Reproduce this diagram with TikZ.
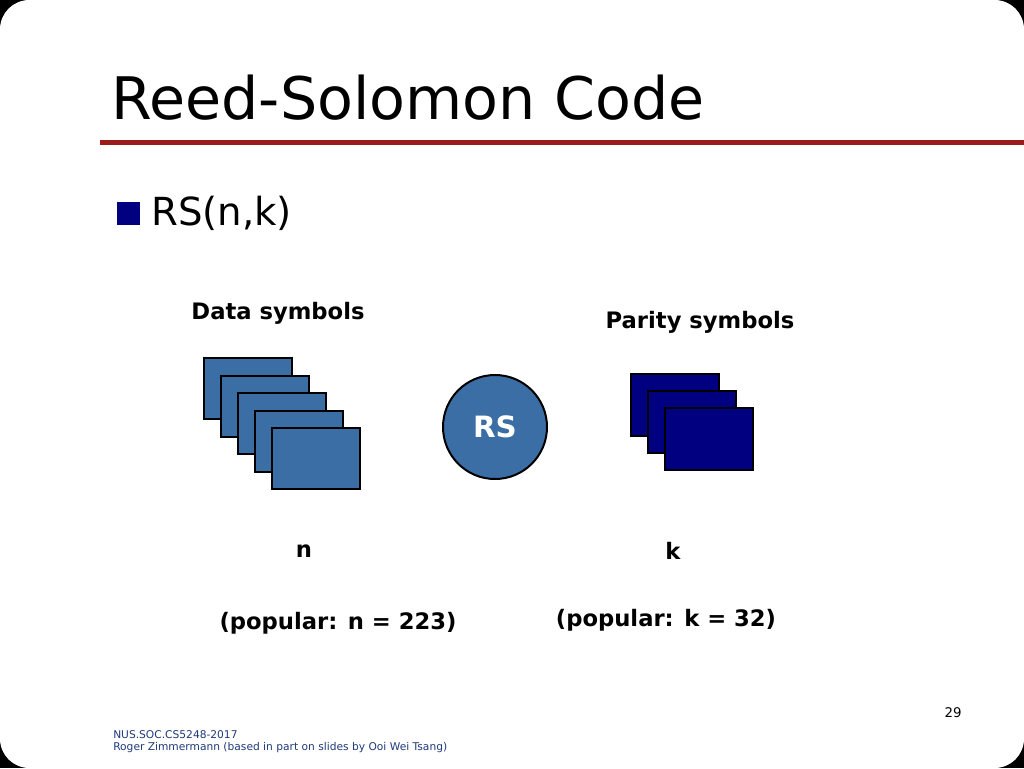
\documentclass[tikz,border=0pt]{standalone}
\usepackage{fontspec}
\setmainfont{DejaVu Sans}
\definecolor{rsblue}{HTML}{3A6EA5}
\definecolor{rsnavy}{HTML}{000080}
\definecolor{rsred}{HTML}{9B1B1B}
\definecolor{foot}{HTML}{1F3A7A}
\begin{document}
\begin{tikzpicture}[x=0.75pt,y=-0.75pt,
  datab/.style={draw=black,line width=1.5pt,fill=rsblue},
  parb/.style={draw=black,line width=1.5pt,fill=rsnavy},
  lbl/.style={font=\fontsize{17}{20}\selectfont\bfseries,inner sep=0pt}]
\fill[black] (0,0) rectangle (1024,768);
\useasboundingbox (0,0) rectangle (1024,768);
\fill[white,rounded corners=22pt] (0,0) rectangle (1024,768);
\node[anchor=west,inner sep=0pt,font=\fontsize{44}{50}\selectfont] (title) at (111,98) {Reed-Solomon Code};
\fill[rsred] (100,139.5) rectangle (1024,144.5);
\fill[rsnavy] (117,202) rectangle (140,225);
\node[anchor=west,inner sep=0pt,font=\fontsize{29}{34}\selectfont] (rs) at (151,213) {RS(n,k)};
\node[lbl] (ds) at (278,313) {Data symbols};
\node[lbl] (ps) at (700,322) {Parity symbols};
\foreach \i in {0,...,4}{
  \draw[datab] (204+17*\i,358+17.5*\i) rectangle ++(88,61);}
\foreach \i in {0,...,2}{
  \draw[parb] (631+17*\i,374+17*\i) rectangle ++(88,62);}
\node[circle,draw=black,line width=1.5pt,fill=rsblue,minimum size=78pt,inner sep=0pt,text=white,font=\fontsize{22}{26}\selectfont\bfseries] (enc) at (495,427) {RS};
\node[lbl] (n) at (304,551) {n};
\node[lbl] (k) at (673,551) {k};
\node[lbl] (pn) at (338,623) {(popular: n = 223)};
\node[lbl] (pk) at (666,620) {(popular: k = 32)};
\node[inner sep=0pt,font=\fontsize{10}{12}\selectfont] (pg) at (953,713) {29};
\node[anchor=west,inner sep=0pt,text=foot,font=\fontsize{8}{10}\selectfont] (f1) at (113,735) {NUS.SOC.CS5248-2017};
\node[anchor=west,inner sep=0pt,text=foot,font=\fontsize{8}{10}\selectfont] (f2) at (113,748) {Roger Zimmermann (based in part on slides by Ooi Wei Tsang)};
\end{tikzpicture}
\end{document}
